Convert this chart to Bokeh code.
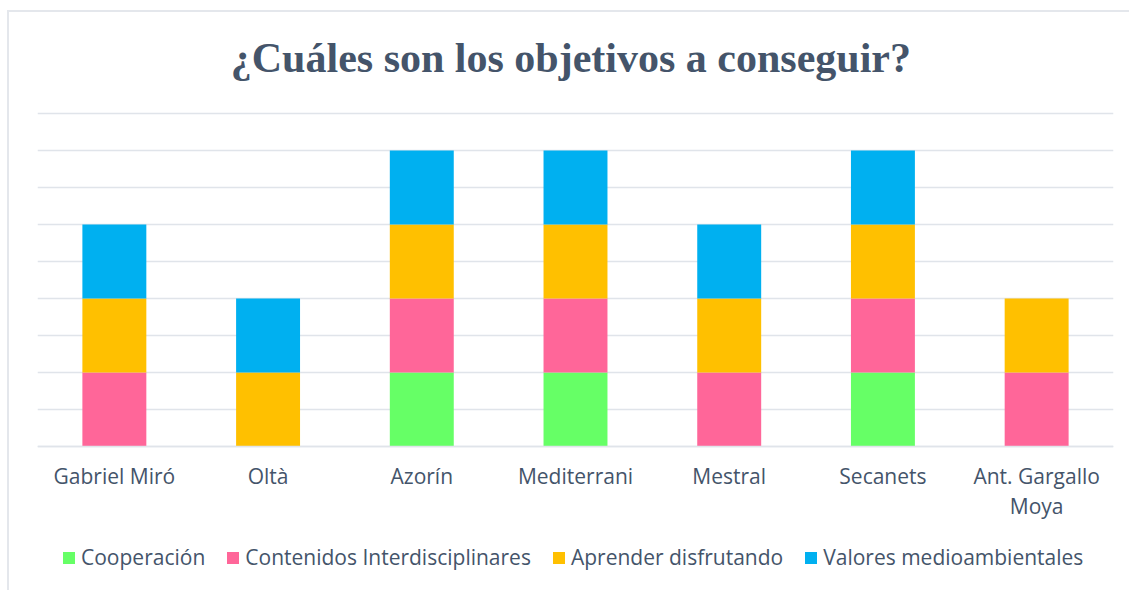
from bokeh.plotting import figure
from bokeh.models import (ColumnDataSource, Legend, LegendItem, Range1d, FixedTicker, Label)
from bokeh.embed import file_html
from bokeh.resources import INLINE

categories = ["Gabriel Miró", "Oltà", "Azorín", "Mediterrani", "Mestral", "Secanets", "Ant. Gargallo\nMoya"]
series = ["Cooperación", "Contenidos Interdisciplinares", "Aprender disfrutando", "Valores medioambientales"]
cooperacion = [0, 0, 1, 1, 0, 1, 0]
contenidos = [1, 0, 1, 1, 1, 1, 1]
aprender = [1, 1, 1, 1, 1, 1, 1]
valores = [1, 1, 1, 1, 1, 1, 0]
grid_ticks = [0, 0.5, 1, 1.5, 2, 2.5, 3, 3.5, 4, 4.5]
colors = ["#66FF66", "#FF6699", "#FFC000", "#00B0F0"]
title_text = "¿Cuáles son los objetivos a conseguir?"

TEXT = "#44546A"
GRID = "#e0e4ea"
PX = 74.0  # pixels per unit

source = ColumnDataSource(dict(cat=categories, s0=cooperacion, s1=contenidos, s2=aprender, s3=valores))

p = figure(x_range=categories,
           y_range=Range1d(-(592 - 446) / PX, 4.5 + (113 - 12) / PX),
           width=1122, height=580,
           output_backend="svg", toolbar_location=None,
           min_border_left=28, min_border_right=18, min_border_top=0, min_border_bottom=0)
p.styles = {"margin-left": "7px", "margin-top": "10px",
            "border-left": "2px solid #e4e7ec", "border-top": "2px solid #e4e7ec"}

renderers = p.vbar_stack(["s0", "s1", "s2", "s3"], x="cat", width=0.416, color=colors,
                         line_color=None, source=source)

p.add_layout(Label(x=3.47, y=4.5 + (113 - 57) / PX, text=title_text, text_align="center",
                   text_baseline="alphabetic", text_font="Liberation Serif",
                   text_font_size="42px", text_font_style="bold", text_color=TEXT))

p.outline_line_color = None
p.yaxis.visible = False
p.ygrid.ticker = FixedTicker(ticks=grid_ticks)
p.ygrid.grid_line_color = GRID
p.ygrid.grid_line_width = 1.5
p.xgrid.grid_line_color = None

ax = p.xaxis[0]
ax.fixed_location = 0
ax.axis_line_color = GRID
ax.axis_line_width = 1.5
ax.major_tick_line_color = None
ax.minor_tick_line_color = None
ax.major_label_standoff = 9
ax.major_label_text_font = "Open Sans"
ax.major_label_text_font_size = "21px"
ax.major_label_text_color = TEXT
ax.major_label_text_line_height = 1.1

items = [LegendItem(label=s, renderers=[r]) for s, r in zip(series, renderers)]
legend = Legend(items=items, orientation="horizontal", location=(24, 21),
                label_text_font="Open Sans", label_text_font_size="21px", label_text_color=TEXT,
                glyph_width=15, glyph_height=15, spacing=20, label_standoff=5,
                border_line_color=None, background_fill_alpha=0, margin=0, padding=0)
p.add_layout(legend, "center")

open("out.html", "w").write(file_html(p, INLINE))
